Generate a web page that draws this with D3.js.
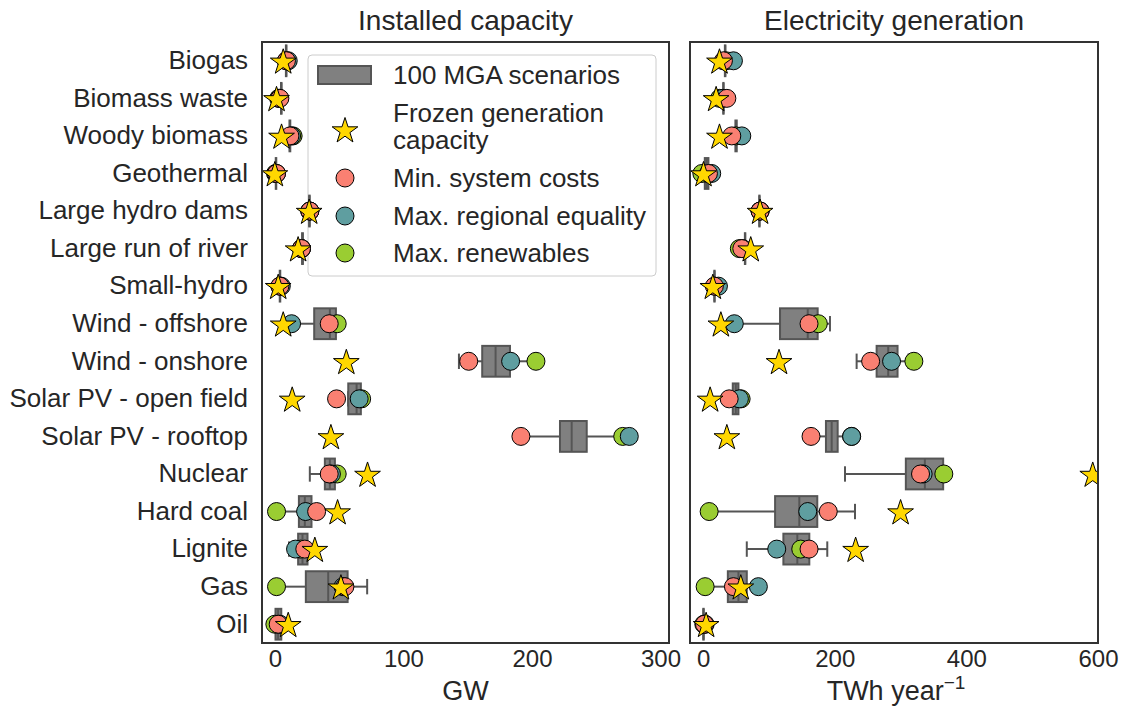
<!DOCTYPE html>
<html lang="en">
<head>
    <meta charset="UTF-8">
    <script src="https://cdn.jsdelivr.net/npm/d3@7"></script>
    <style>
        body { margin: 0; background: #fff; }
        text { font-family: "Liberation Sans", Arial, sans-serif; fill: #262626; }
    </style>
</head>
<body>
    <div id="chart"></div>
</body>
<script>
    // DATA:

    const CATEGORIES = ["Biogas", "Biomass waste", "Woody biomass", "Geothermal", "Large hydro dams",
        "Large run of river", "Small-hydro", "Wind - offshore", "Wind - onshore", "Solar PV - open field",
        "Solar PV - rooftop", "Nuclear", "Hard coal", "Lignite", "Gas", "Oil"];

    // box stats of the 100 MGA scenarios: [whisker min, q1, median, q3, whisker max]
    const CAP_BOXES = [
        [8.5, 8.6, 8.8, 9.0, 9.2], [4.5, 4.8, 5, 5.2, 5.5], [11, 11.4, 11.7, 12, 12.3], [0.5, 0.7, 0.9, 1.1, 1.3],
        [26.5, 26.7, 26.9, 27.1, 27.3], [21, 21.2, 21.5, 21.8, 22], [3.6, 3.8, 4, 4.2, 4.4], [13, 30.6, 42.8, 47.5, 47.5],
        [143.2, 161.3, 171.7, 182.9, 200], [57, 57.1, 63.6, 66.9, 67], [191.4, 221.8, 230.9, 242.6, 270], [27.2, 38.9, 42.8, 46.7, 46.7],
        [1.3, 18.7, 23.3, 28.5, 28.5], [11, 18.1, 21.5, 25.4, 25.4], [1.3, 24.1, 41.5, 56.6, 71.8], [0, 0.5, 2.5, 5, 5]
    ];
    const GEN_BOXES = [
        [32.5, 33, 33.4, 33.8, 34.2], [30.3, 30.6, 30.8, 31, 31.3], [48.5, 49, 50, 51, 51.5], [2, 2.5, 5.6, 8, 8.5],
        [85, 85.3, 85.5, 85.7, 86], [63, 63.4, 63.7, 64, 64.3], [16.8, 17, 17.2, 17.4, 17.6], [47, 116.8, 158.9, 174, 192.7],
        [233.2, 263.6, 281.2, 295.4, 312], [45, 45, 49.6, 53.6, 53.6], [163.9, 186.6, 195.3, 204.4, 225.6], [215.5, 308, 336.9, 364.7, 364.7],
        [9.1, 109.3, 146.1, 173.4, 230.7], [66.3, 121.9, 143.1, 161.3, 188.6], [3, 37.5, 53.6, 66.3, 80], [0, 0.2, 0.5, 0.8, 1]
    ];

    // single scenarios, installed capacity (GW)
    const CAP_MIN_COSTS = [9, 3.9, 11.7, 1.3, 27.2, 20.7, 3.9, 42.3, 150.8, 48, 191.4, 42.3, 32.5, 23.3, 54.5, 2.6];
    const CAP_MAX_EQUALITY = [10.4, 3.5, 13, 1.3, 27.2, 20.7, 5, 13, 183.4, 65.6, 275.7, 44, 23.9, 16.1, 53, 4];
    const CAP_MAX_RENEW = [9, 3, 14.2, 0.5, 27.2, 20.7, 4, 48.5, 203.1, 67.5, 270.6, 48.5, 1.3, 20, 1.3, 0];
    const CAP_FROZEN = [6.5, 1.3, 5.2, 0, 26.7, 18.1, 2.6, 6.5, 55.6, 13.5, 43.6, 72.1, 48.8, 31.1, 51.4, 10.4];

    // single scenarios, electricity generation (TWh/year)
    const GEN_MIN_COSTS = [30.8, 36, 43.5, 8, 86.5, 58.7, 17, 160.9, 254.5, 39.5, 163.9, 330.3, 190.1, 160.9, 46, 2];
    const GEN_MAX_EQUALITY = [46, 30, 58.7, 13, 86.5, 60, 23.2, 47.3, 286.3, 55.1, 225.6, 334.3, 158.9, 111.8, 83.9, 3];
    const GEN_MAX_RENEW = [35, 25, 50, -2, 86.5, 55, 18, 175, 320.2, 57.7, 225.6, 365.7, 9.1, 148.3, 3, 1];
    const GEN_FROZEN = [24.8, 19.7, 24.8, 0.5, 86.5, 72.3, 14.7, 26.9, 115.3, 10.6, 36, 592, 300, 231.7, 57.2, 4.5];

    const CAP_TICKS = [0, 100, 200, 300];
    const GEN_TICKS = [0, 200, 400, 600];

    const LEGEND_LABELS = ["100 MGA scenarios", ["Frozen generation", "capacity"], "Min. system costs",
        "Max. regional equality", "Max. renewables"];

    // STYLE / LAYOUT:

    const WIDTH = 1122, HEIGHT = 712;
    const TOP = 42, BOTTOM = 643;
    const COL_COSTS = "#FA8072", COL_EQUAL = "#5F9EA0", COL_RENEW = "#9ACD32", COL_STAR = "#FFD700";
    const BOX_FILL = "#808080", BOX_EDGE = "#555555";
    const FRAME = "#333333";
    const FONT = "'Liberation Sans', Arial, sans-serif";

    const svg = d3.select("#chart").append("svg")
        .attr("width", WIDTH)
        .attr("height", HEIGHT);

    const y = d3.scaleBand().domain(CATEGORIES).range([TOP, BOTTOM]);
    const boxH = y.bandwidth() * 0.82;

    const starPath = d3.symbol().type(d3.symbolStar).size(205)();

    // LEGEND (drawn first: markers sit on top of it)

    const lg = svg.append("g");
    lg.append("rect").attr("x", 308).attr("y", 55).attr("width", 348).attr("height", 221)
        .attr("rx", 4).attr("fill", "#fff")
        .attr("stroke", "#cccccc").attr("stroke-width", 1);
    lg.append("rect").attr("x", 318).attr("y", 66).attr("width", 53).attr("height", 18)
        .attr("fill", BOX_FILL).attr("stroke", BOX_EDGE).attr("stroke-width", 2);
    lg.append("path").attr("d", starPath).attr("transform", "translate(345,131)")
        .attr("fill", COL_STAR).attr("stroke", "#000").attr("stroke-width", 1);
    [[COL_COSTS, 178], [COL_EQUAL, 216], [COL_RENEW, 253]].forEach(c => {
        lg.append("circle").attr("cx", 345).attr("cy", c[1]).attr("r", 9)
            .attr("fill", c[0]).attr("stroke", "#000").attr("stroke-width", 1);
    });
    const legendY = [75, [113, 140], 178, 216, 253];
    LEGEND_LABELS.forEach((lab, i) => {
        const lines = Array.isArray(lab) ? lab : [lab];
        const ys = Array.isArray(legendY[i]) ? legendY[i] : [legendY[i]];
        lines.forEach((t, j) => {
            lg.append("text").attr("x", 393).attr("y", ys[j]).attr("dy", "0.35em")
                .style("font-size", "26px").text(t);
        });
    });

    // draws one panel: boxes, points, frame, axis
    function drawPanel(x0, x1, domain, ticks, boxes, series, title, clipId) {
        const x = d3.scaleLinear().domain(domain).range([x0, x1]);
        const g = svg.append("g");
        const cy = i => y(CATEGORIES[i]) + y.bandwidth() / 2;

        svg.append("clipPath").attr("id", clipId)
            .append("rect").attr("x", x0).attr("y", TOP).attr("width", x1 - x0).attr("height", BOTTOM - TOP);
        const plot = g.append("g").attr("clip-path", "url(#" + clipId + ")");

        // boxes
        const bx = plot.selectAll("g.box").data(boxes).enter().append("g").attr("class", "box");
        [[0, 1], [3, 4]].forEach(p => {
            bx.append("line")
                .attr("x1", d => x(d[p[0]])).attr("x2", d => x(d[p[1]]))
                .attr("y1", (d, i) => cy(i)).attr("y2", (d, i) => cy(i))
                .attr("stroke", BOX_EDGE).attr("stroke-width", 2);
        });
        [0, 4].forEach(k => {
            bx.append("line")
                .attr("x1", d => x(d[k])).attr("x2", d => x(d[k]))
                .attr("y1", (d, i) => cy(i) - boxH / 4)
                .attr("y2", (d, i) => cy(i) + boxH / 4)
                .attr("stroke", BOX_EDGE).attr("stroke-width", 2);
        });
        bx.append("rect")
            .attr("x", d => x(d[1]))
            .attr("width", d => Math.max(x(d[3]) - x(d[1]), 0))
            .attr("y", (d, i) => cy(i) - boxH / 2)
            .attr("height", boxH)
            .attr("fill", BOX_FILL).attr("stroke", BOX_EDGE).attr("stroke-width", 2);
        bx.append("line")
            .attr("x1", d => x(d[2])).attr("x2", d => x(d[2]))
            .attr("y1", (d, i) => cy(i) - boxH / 2)
            .attr("y2", (d, i) => cy(i) + boxH / 2)
            .attr("stroke", BOX_EDGE).attr("stroke-width", 2);

        // scenario circles: renewables at bottom, then equality, then costs
        series.circles.forEach(s => {
            plot.append("g").selectAll("circle").data(s.values).enter().append("circle")
                .attr("cx", d => x(d))
                .attr("cy", (d, i) => cy(i))
                .attr("r", 9)
                .attr("fill", s.color).attr("stroke", "#000").attr("stroke-width", 1);
        });
        // frozen capacity stars
        plot.append("g").selectAll("path").data(series.stars).enter().append("path")
            .attr("d", starPath)
            .attr("transform", (d, i) => "translate(" + x(d) + "," + (cy(i) + 1.5) + ")")
            .attr("fill", COL_STAR).attr("stroke", "#000").attr("stroke-width", 1);

        // frame
        g.append("rect")
            .attr("x", x0).attr("y", TOP).attr("width", x1 - x0).attr("height", BOTTOM - TOP)
            .attr("fill", "none").attr("stroke", FRAME).attr("stroke-width", 2);

        // x axis
        const ax = g.append("g").attr("transform", "translate(0," + BOTTOM + ")")
            .call(d3.axisBottom(x).tickValues(ticks).tickSize(0).tickPadding(7));
        ax.select(".domain").remove();
        ax.selectAll("text").style("font-size", "24px").attr("fill", "#262626")
            .style("font-family", FONT);

        // title
        g.append("text")
            .attr("x", (x0 + x1) / 2).attr("y", 30)
            .attr("text-anchor", "middle").style("font-size", "28px")
            .text(title);
        return { x, g };
    }

    drawPanel(262, 669, [-10, 306.6], CAP_TICKS, CAP_BOXES, {
        circles: [
            { values: CAP_MAX_RENEW, color: COL_RENEW },
            { values: CAP_MAX_EQUALITY, color: COL_EQUAL },
            { values: CAP_MIN_COSTS, color: COL_COSTS }
        ],
        stars: CAP_FROZEN
    }, "Installed capacity", "clipL");

    drawPanel(690, 1098, [-20, 600], GEN_TICKS, GEN_BOXES, {
        circles: [
            { values: GEN_MAX_RENEW, color: COL_RENEW },
            { values: GEN_MAX_EQUALITY, color: COL_EQUAL },
            { values: GEN_MIN_COSTS, color: COL_COSTS }
        ],
        stars: GEN_FROZEN
    }, "Electricity generation", "clipR");

    // y axis (category labels)
    const yAx = svg.append("g").attr("transform", "translate(262,0)")
        .call(d3.axisLeft(y).tickSize(0).tickPadding(14));
    yAx.select(".domain").remove();
    yAx.selectAll("text").style("font-size", "26px").attr("fill", "#262626")
        .style("font-family", FONT);

    // x axis labels
    svg.append("text").attr("x", 465.5).attr("y", 700).attr("text-anchor", "middle")
        .style("font-size", "27px").text("GW");
    const tl = svg.append("text").attr("x", 896).attr("y", 700).attr("text-anchor", "middle")
        .style("font-size", "27px");
    tl.append("tspan").text("TWh year");
    tl.append("tspan").attr("dy", -11).style("font-size", "19px").text("\u22121");
</script>
</html>
